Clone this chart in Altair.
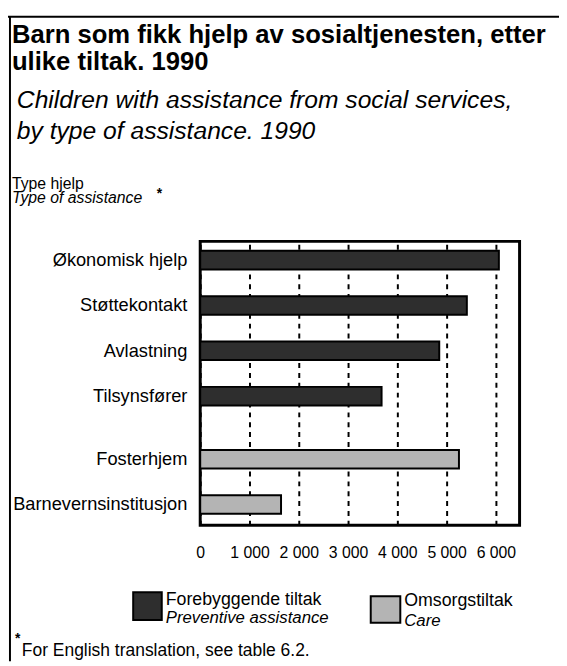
import altair as alt
import pandas as pd

categories = ["Økonomisk hjelp", "Støttekontakt", "Avlastning", "Tilsynsfører",
              "Fosterhjem", "Barnevernsinstitusjon"]
values = [6060, 5410, 4850, 3680, 5250, 1640]
groups = ["Forebyggende tiltak"] * 4 + ["Omsorgstiltak"] * 2
x_ticks = [0, 1000, 2000, 3000, 4000, 5000, 6000]
series = ["Forebyggende tiltak", "Omsorgstiltak"]
series_en = ["Preventive assistance", "Care"]
colors = ["#2e2e2e", "#b4b4b4"]

GAP = 0.39
HALF = 0.205
df = pd.DataFrame({"kategori": categories, "verdi": values, "gruppe": groups})
df["pos"] = [i + (GAP if g == series[1] else 0) for i, g in enumerate(groups)]
df["y0"] = df["pos"] - HALF
df["y1"] = df["pos"] + HALF
df["x0"] = 0

W, H = 324, 288
FONT = "Liberation Sans"

yscale = alt.Scale(domain=[-0.413, 5.847], reverse=True, nice=False, zero=False)
xscale = alt.Scale(domain=[0, 6480], nice=False)

base = alt.Chart(df)

bars = base.mark_rect(stroke="black", strokeWidth=2).encode(
    x=alt.X("x0:Q", scale=xscale, axis=alt.Axis(
        values=x_ticks, grid=True, gridDash=[5, 5], gridColor="black", gridWidth=2,
        gridOpacity=1, domain=False, ticks=False, tickSize=0, labelPadding=33,
        labelBaseline="alphabetic", labelFont=FONT, labelFontSize=16, labelColor="black",
        labelExpr="replace(format(datum.value, ','), ',', ' ')", title=None,
        labelFlush=False, labelOverlap=False)),
    x2="verdi:Q",
    y=alt.Y("y0:Q", scale=yscale, axis=None),
    y2="y1:Q",
    fill=alt.Fill("gruppe:N", scale=alt.Scale(domain=series, range=colors), legend=None),
)

cat_labels = base.mark_text(align="right", baseline="middle", font=FONT, fontSize=18.5,
                            color="black").encode(
    x=alt.value(-13),
    y=alt.Y("pos:Q", scale=yscale, axis=None),
    text="kategori:N",
)


def txt(s, x, y, size=17, weight="normal", style="normal", align="left", baseline="alphabetic"):
    return alt.Chart(alt.Data(values=[{}])).mark_text(
        text=s, align=align, baseline=baseline, font=FONT, fontSize=size,
        fontWeight=weight, fontStyle=style, color="black"
    ).encode(x=alt.value(x), y=alt.value(y))


def box(x1, x2, y1, y2, fill, stroke="black", sw=2):
    return alt.Chart(alt.Data(values=[{}])).mark_rect(
        fill=fill, stroke=stroke, strokeWidth=sw
    ).encode(x=alt.value(x1), x2=alt.value(x2), y=alt.value(y1), y2=alt.value(y2))


def line(x1, x2, y1, y2, sw=2):
    return alt.Chart(alt.Data(values=[{}])).mark_rule(color="black", strokeWidth=sw).encode(
        x=alt.value(x1), x2=alt.value(x2), y=alt.value(y1), y2=alt.value(y2))


annotations = [
    line(-195, 364, -228, -228),
    line(-193, -193, -228, 426),
    txt("Barn som fikk hjelp av sosialtjenesten, etter", -191, -201, 26, "bold"),
    txt("ulike tiltak. 1990", -191, -174, 26, "bold"),
    txt("Children with assistance from social services,", -186, -135, 25, style="italic"),
    txt("by type of assistance. 1990", -186, -104, 25, style="italic"),
    txt("Type hjelp", -191, -53, 16),
    txt("Type of assistance", -191, -39, 16, style="italic"),
    txt("*", -44, -44, 14, "bold"),
    box(-68, -39, 356, 384, colors[0]),
    txt(series[0], -35, 369, 18),
    txt(series_en[0], -35, 387, 17, style="italic"),
    box(173, 203, 360, 387, colors[1]),
    txt(series[1], 207, 370, 18),
    txt(series_en[1], 207, 390, 17, style="italic"),
    txt("*", -188, 407, 14, "bold"),
    txt("For English translation, see table 6.2.", -181, 421, 17.7),
]

chart = alt.layer(bars, cat_labels, *annotations).properties(
    width=W, height=H,
    padding={"left": 195, "top": 232, "right": 40, "bottom": 138},
    autosize=alt.AutoSizeParams(type="none"),
    background="white",
).configure_view(stroke="black", strokeWidth=3)

chart.save("out.html", embed_options={"renderer": "svg", "actions": False})
